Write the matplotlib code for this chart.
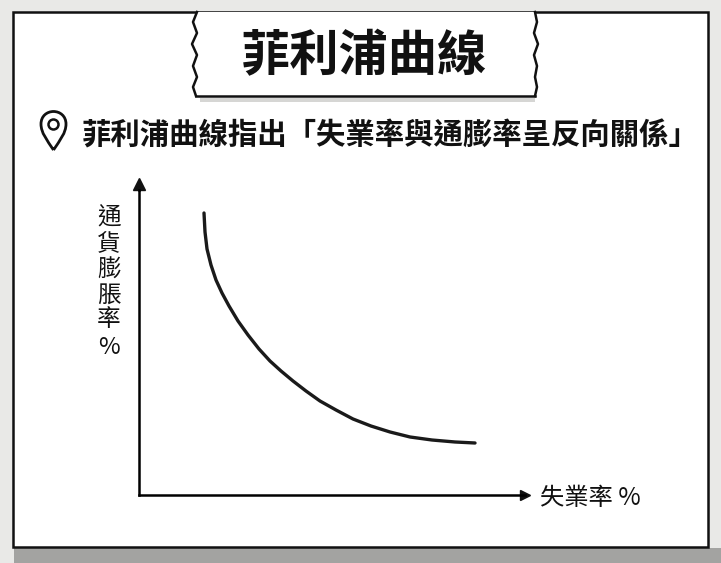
import matplotlib
matplotlib.use('Agg')
import matplotlib.pyplot as plt
from matplotlib.patches import Rectangle, Circle, PathPatch
from matplotlib.path import Path

plt.rcParams['font.family'] = ['Noto Sans CJK TC', 'DejaVu Sans']

title = '菲利浦曲線'
subtitle = '菲利浦曲線指出「失業率與通膨率呈反向關係」'
ylabel_chars = ['通', '貨', '膨', '脹', '率', '%']
xlabel = '失業率 %'

# curve, axis units are arbitrary 0-100
unemployment = [16.84, 17.10, 17.62, 18.65, 19.95, 21.50, 23.32, 25.65, 28.24, 31.09, 33.94, 36.79,
                39.90, 43.26, 46.89, 51.04, 55.44, 60.10, 65.03, 70.21, 75.91, 81.87, 87.05]
inflation = [92.46, 86.23, 80.66, 75.41, 70.49, 66.23, 61.97, 57.05, 52.46, 47.87, 43.93, 40.66,
             37.38, 34.10, 30.82, 27.87, 24.92, 22.62, 20.66, 19.02, 18.03, 17.38, 17.05]

W, H = 721, 563
fig = plt.figure(figsize=(W / 100, H / 100), dpi=100, facecolor='#e9e9e7')

# page layer in pixel coordinates
bg = fig.add_axes([0, 0, 1, 1])
bg.set_xlim(0, W)
bg.set_ylim(H, 0)
bg.axis('off')

bg.add_patch(Rectangle((14, 548), 707, 15, fc='#a3a3a1', ec='none'))
bg.add_patch(Rectangle((13, 12), 695, 535, fc='white', ec='#111111', lw=1.8))
bg.add_patch(Rectangle((200, 98), 335, 4, fc='#d6d6d4', ec='none'))

# title tag with wavy sides
left_x = [197, 193, 197, 192, 197, 193, 197, 193, 196]
right_x = [535, 537, 534, 538, 534, 537, 535, 537, 535]
side_y = [12, 22, 33, 44, 55, 66, 77, 87, 96]
tag_x = left_x + [537] + right_x[::-1]
tag_y = side_y + [96] + side_y[::-1]
bg.fill(tag_x, tag_y, fc='white', ec='none', zorder=2)
bg.plot(left_x, side_y, color='#111111', lw=1.8, zorder=3)
bg.plot(right_x, side_y, color='#111111', lw=1.8, zorder=3)
bg.plot([196, 535], [96, 96], color='#111111', lw=1.8, zorder=3)

bg.text(364, 57, title, ha='center', va='center', fontsize=35.5, fontweight='bold',
        color='#111111', zorder=4)
bg.text(390, 136, subtitle, ha='center', va='center', fontsize=21.2, fontweight='bold',
        color='#111111')

# location pin
pin = Path([(53.5, 150), (47, 140), (41, 133), (41, 124), (41, 116), (47, 111.5), (53.5, 111.5),
            (60, 111.5), (66, 116), (66, 124), (66, 133), (60, 140), (53.5, 150)],
           [Path.MOVETO] + [Path.CURVE4] * 12)
bg.add_patch(PathPatch(pin, fc='white', ec='#111111', lw=2.0))
bg.add_patch(Circle((53.5, 124.5), 5, fc='white', ec='#111111', lw=1.8))

# the chart itself
ax = fig.add_axes([139 / W, 1 - 495 / H, 386 / W, 305 / H])
ax.patch.set_alpha(0)
ax.plot(unemployment, inflation, color='#1a1a1a', lw=2.4, solid_capstyle='round')
ax.set_xlim(0, 100)
ax.set_ylim(0, 100)
ax.set_xticks([])
ax.set_yticks([])
ax.spines['top'].set_visible(False)
ax.spines['right'].set_visible(False)
ax.spines['left'].set_linewidth(1.8)
ax.spines['bottom'].set_linewidth(1.8)
ax.plot(1, 0, '>', color='#111111', ms=7, transform=ax.transAxes, clip_on=False)
ax.plot(0, 1.02, '^', color='#111111', ms=8, transform=ax.transAxes, clip_on=False)
ax.plot([0, 0], [1, 1.02], color='#111111', lw=1.8, transform=ax.transAxes, clip_on=False)

# labels
ylabel_y = [218, 244, 270, 295, 319, 347]
for ch, y in zip(ylabel_chars, ylabel_y):
    bg.text(109, y, ch, ha='center', va='center', fontsize=17, fontweight='medium', color='#111111')
bg.text(540, 498, xlabel, ha='left', va='center', fontsize=17.5, fontweight='medium', color='#111111')

fig.savefig('out.png', dpi=100, facecolor=fig.get_facecolor())
